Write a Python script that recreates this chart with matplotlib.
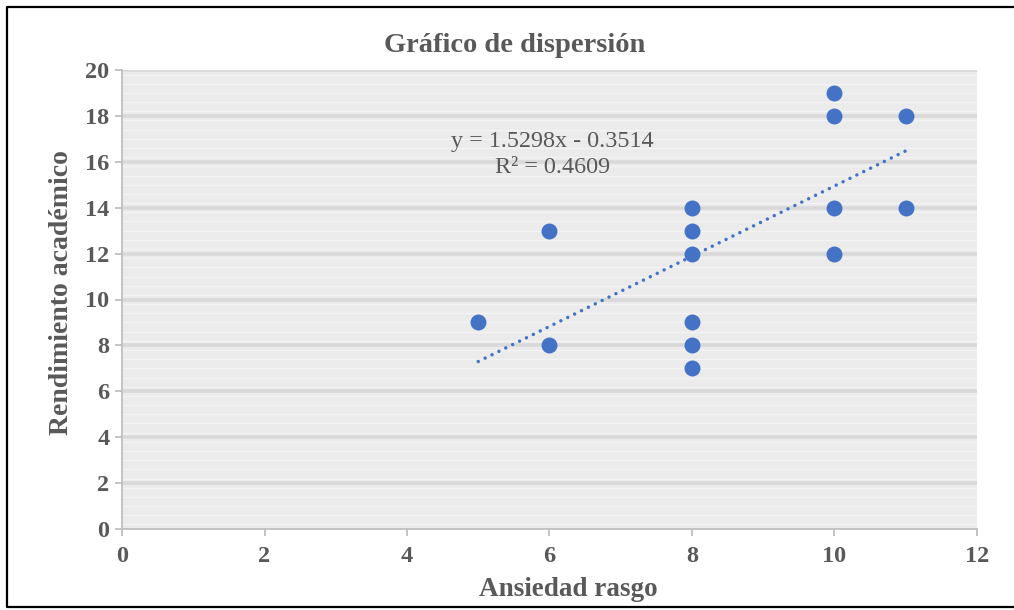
import matplotlib
matplotlib.use("Agg")
import matplotlib.pyplot as plt
from matplotlib.lines import Line2D
import numpy as np

# data
ansiedad = [5, 6, 6, 8, 8, 8, 8, 8, 8, 10, 10, 10, 10, 11, 11]
rendimiento = [9, 13, 8, 14, 13, 12, 9, 8, 7, 19, 18, 14, 12, 18, 14]
slope = 1.5298
intercept = -0.3514
r2 = 0.4609

blue = "#4472C4"
txt = "#595959"
axis_gray = "#bfbfbf"

plt.rcParams["font.family"] = ["Liberation Serif", "DejaVu Serif"]

fig = plt.figure(figsize=(10.14, 6.10), dpi=100)
W, H = 1014, 610
ax = fig.add_axes([122 / W, 1 - 529 / H, (977 - 122) / W, (529 - 70) / H])

# striped background like the Excel pattern fill
ax.set_facecolor("#ebebeb")
for yy in np.arange(0.2, 20, 0.4):
    ax.axhline(yy, color="#f3f3f3", lw=1.0, zorder=0)
for yy in np.arange(2, 21, 2):
    ax.axhline(yy, color="#d9d9d9", lw=2.6, zorder=1)

ax.scatter(ansiedad, rendimiento, s=132, color=blue, zorder=3, linewidths=0)

xs = np.array([min(ansiedad), max(ansiedad)])
ax.plot(xs, slope * xs + intercept, color=blue, lw=2.5,
        linestyle=(0, (0.01, 2.2)), dash_capstyle="round", zorder=2)

ax.text(6.04, 16.3, f"y = {slope}x - {abs(intercept)}\nR² = {r2}",
        ha="center", va="center", fontsize=17.4, color=txt, linespacing=1.32)

ax.set_xlim(0, 12)
ax.set_ylim(0, 20)
ax.set_xticks(range(0, 13, 2))
ax.set_yticks(range(0, 21, 2))
for sp in ["top", "right"]:
    ax.spines[sp].set_visible(False)
for sp in ["left", "bottom"]:
    ax.spines[sp].set_color(axis_gray)
    ax.spines[sp].set_linewidth(1.3)
ax.tick_params(axis="both", direction="out", length=5, width=1.3,
               color=axis_gray, labelcolor=txt, labelsize=17.5)
ax.tick_params(axis="x", pad=7)
ax.tick_params(axis="y", pad=4)
for lab in ax.get_xticklabels() + ax.get_yticklabels():
    lab.set_fontweight("bold")

fig.text(515 / W, 1 - 45 / H, "Gráfico de dispersión", ha="center", va="center",
         fontsize=20.5, fontweight="bold", color=txt)
fig.text(568 / W, 1 - 590 / H, "Ansiedad rasgo", ha="center", va="center",
         fontsize=19.5, fontweight="bold", color=txt)
fig.text(62 / W, 1 - 293 / H, "Rendimiento académico", ha="center", va="center",
         rotation=90, fontsize=20, fontweight="bold", color=txt)

# outer frame (top, left, bottom)
fx = [1.0, 7 / W, 7 / W, 1.0]
fy = [1 - 7 / H, 1 - 7 / H, 1 - 607 / H, 1 - 607 / H]
fig.add_artist(Line2D(fx, fy, color="black", lw=1.6, transform=fig.transFigure))

fig.savefig("out.png", dpi=100)
